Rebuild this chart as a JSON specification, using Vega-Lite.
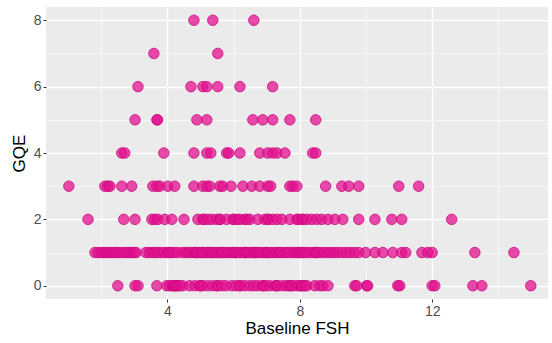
{
  "$schema": "https://vega.github.io/schema/vega-lite/v6.json",
  "width": 502,
  "height": 292,
  "autosize": {"type": "none"},
  "padding": {"left": 46, "top": 7, "right": 4, "bottom": 44},
  "background": "white",
  "config": {
    "view": {"fill": "#EBEBEB", "stroke": null},
    "font": "Liberation Sans"
  },
  "datasets": {
    "pts": [
      {"fsh": 4.80, "gqe": 8}, {"fsh": 5.37, "gqe": 8}, {"fsh": 6.61, "gqe": 8},
      {"fsh": 3.59, "gqe": 7}, {"fsh": 5.52, "gqe": 7},
      {"fsh": 3.11, "gqe": 6}, {"fsh": 4.71, "gqe": 6}, {"fsh": 5.07, "gqe": 6}, {"fsh": 5.19, "gqe": 6}, {"fsh": 5.52, "gqe": 6}, {"fsh": 6.19, "gqe": 6}, {"fsh": 7.18, "gqe": 6},
      {"fsh": 3.02, "gqe": 5}, {"fsh": 3.68, "gqe": 5}, {"fsh": 3.70, "gqe": 5}, {"fsh": 4.89, "gqe": 5}, {"fsh": 5.19, "gqe": 5}, {"fsh": 6.58, "gqe": 5}, {"fsh": 6.88, "gqe": 5}, {"fsh": 7.18, "gqe": 5}, {"fsh": 7.70, "gqe": 5}, {"fsh": 8.48, "gqe": 5},
      {"fsh": 2.62, "gqe": 4}, {"fsh": 2.71, "gqe": 4}, {"fsh": 3.89, "gqe": 4}, {"fsh": 4.80, "gqe": 4}, {"fsh": 5.19, "gqe": 4}, {"fsh": 5.31, "gqe": 4}, {"fsh": 5.79, "gqe": 4}, {"fsh": 5.85, "gqe": 4}, {"fsh": 6.19, "gqe": 4}, {"fsh": 6.79, "gqe": 4}, {"fsh": 7.03, "gqe": 4}, {"fsh": 7.18, "gqe": 4}, {"fsh": 7.31, "gqe": 4}, {"fsh": 7.55, "gqe": 4}, {"fsh": 8.39, "gqe": 4}, {"fsh": 8.48, "gqe": 4},
      {"fsh": 1.02, "gqe": 3}, {"fsh": 2.11, "gqe": 3}, {"fsh": 2.20, "gqe": 3}, {"fsh": 2.26, "gqe": 3}, {"fsh": 2.62, "gqe": 3}, {"fsh": 2.92, "gqe": 3}, {"fsh": 3.56, "gqe": 3}, {"fsh": 3.68, "gqe": 3}, {"fsh": 3.77, "gqe": 3}, {"fsh": 4.01, "gqe": 3}, {"fsh": 4.22, "gqe": 3}, {"fsh": 4.80, "gqe": 3}, {"fsh": 5.07, "gqe": 3}, {"fsh": 5.19, "gqe": 3}, {"fsh": 5.28, "gqe": 3}, {"fsh": 5.58, "gqe": 3}, {"fsh": 5.67, "gqe": 3}, {"fsh": 5.92, "gqe": 3}, {"fsh": 6.28, "gqe": 3}, {"fsh": 6.55, "gqe": 3}, {"fsh": 6.79, "gqe": 3}, {"fsh": 7.03, "gqe": 3}, {"fsh": 7.12, "gqe": 3}, {"fsh": 7.70, "gqe": 3}, {"fsh": 7.79, "gqe": 3}, {"fsh": 7.91, "gqe": 3}, {"fsh": 8.78, "gqe": 3}, {"fsh": 9.27, "gqe": 3}, {"fsh": 9.48, "gqe": 3}, {"fsh": 9.78, "gqe": 3}, {"fsh": 10.99, "gqe": 3}, {"fsh": 11.59, "gqe": 3},
      {"fsh": 1.60, "gqe": 2}, {"fsh": 2.68, "gqe": 2}, {"fsh": 3.02, "gqe": 2}, {"fsh": 3.53, "gqe": 2}, {"fsh": 3.62, "gqe": 2}, {"fsh": 3.71, "gqe": 2}, {"fsh": 3.92, "gqe": 2}, {"fsh": 4.13, "gqe": 2}, {"fsh": 4.50, "gqe": 2}, {"fsh": 4.92, "gqe": 2}, {"fsh": 5.07, "gqe": 2}, {"fsh": 5.10, "gqe": 2}, {"fsh": 5.22, "gqe": 2}, {"fsh": 5.34, "gqe": 2}, {"fsh": 5.49, "gqe": 2}, {"fsh": 5.58, "gqe": 2}, {"fsh": 5.60, "gqe": 2}, {"fsh": 5.79, "gqe": 2}, {"fsh": 5.98, "gqe": 2}, {"fsh": 6.00, "gqe": 2}, {"fsh": 6.10, "gqe": 2}, {"fsh": 6.19, "gqe": 2}, {"fsh": 6.34, "gqe": 2}, {"fsh": 6.40, "gqe": 2}, {"fsh": 6.49, "gqe": 2}, {"fsh": 6.73, "gqe": 2}, {"fsh": 6.94, "gqe": 2}, {"fsh": 7.03, "gqe": 2}, {"fsh": 7.05, "gqe": 2}, {"fsh": 7.18, "gqe": 2}, {"fsh": 7.31, "gqe": 2}, {"fsh": 7.46, "gqe": 2}, {"fsh": 7.70, "gqe": 2}, {"fsh": 7.91, "gqe": 2}, {"fsh": 7.95, "gqe": 2}, {"fsh": 8.06, "gqe": 2}, {"fsh": 8.10, "gqe": 2}, {"fsh": 8.21, "gqe": 2}, {"fsh": 8.36, "gqe": 2}, {"fsh": 8.51, "gqe": 2}, {"fsh": 8.66, "gqe": 2}, {"fsh": 8.85, "gqe": 2}, {"fsh": 9.06, "gqe": 2}, {"fsh": 9.30, "gqe": 2}, {"fsh": 9.78, "gqe": 2}, {"fsh": 10.27, "gqe": 2}, {"fsh": 10.78, "gqe": 2}, {"fsh": 11.08, "gqe": 2}, {"fsh": 12.59, "gqe": 2},
      {"fsh": 1.81, "gqe": 1}, {"fsh": 1.90, "gqe": 1}, {"fsh": 2.00, "gqe": 1}, {"fsh": 2.08, "gqe": 1}, {"fsh": 2.15, "gqe": 1}, {"fsh": 2.22, "gqe": 1}, {"fsh": 2.30, "gqe": 1}, {"fsh": 2.38, "gqe": 1}, {"fsh": 2.45, "gqe": 1}, {"fsh": 2.52, "gqe": 1}, {"fsh": 2.60, "gqe": 1}, {"fsh": 2.70, "gqe": 1}, {"fsh": 2.78, "gqe": 1}, {"fsh": 2.85, "gqe": 1}, {"fsh": 2.92, "gqe": 1}, {"fsh": 3.00, "gqe": 1}, {"fsh": 3.05, "gqe": 1}, {"fsh": 3.35, "gqe": 1}, {"fsh": 3.45, "gqe": 1}, {"fsh": 3.55, "gqe": 1}, {"fsh": 3.62, "gqe": 1}, {"fsh": 3.70, "gqe": 1}, {"fsh": 3.80, "gqe": 1}, {"fsh": 3.90, "gqe": 1}, {"fsh": 4.00, "gqe": 1}, {"fsh": 4.05, "gqe": 1}, {"fsh": 4.10, "gqe": 1}, {"fsh": 4.20, "gqe": 1}, {"fsh": 4.30, "gqe": 1}, {"fsh": 4.45, "gqe": 1}, {"fsh": 4.55, "gqe": 1}, {"fsh": 4.62, "gqe": 1}, {"fsh": 4.70, "gqe": 1}, {"fsh": 4.80, "gqe": 1}, {"fsh": 4.85, "gqe": 1}, {"fsh": 4.88, "gqe": 1}, {"fsh": 4.95, "gqe": 1}, {"fsh": 5.02, "gqe": 1}, {"fsh": 5.05, "gqe": 1}, {"fsh": 5.10, "gqe": 1}, {"fsh": 5.18, "gqe": 1}, {"fsh": 5.25, "gqe": 1}, {"fsh": 5.32, "gqe": 1}, {"fsh": 5.35, "gqe": 1}, {"fsh": 5.40, "gqe": 1}, {"fsh": 5.48, "gqe": 1}, {"fsh": 5.55, "gqe": 1}, {"fsh": 5.62, "gqe": 1}, {"fsh": 5.65, "gqe": 1}, {"fsh": 5.70, "gqe": 1}, {"fsh": 5.78, "gqe": 1}, {"fsh": 5.85, "gqe": 1}, {"fsh": 5.92, "gqe": 1}, {"fsh": 6.00, "gqe": 1}, {"fsh": 6.05, "gqe": 1}, {"fsh": 6.08, "gqe": 1}, {"fsh": 6.15, "gqe": 1}, {"fsh": 6.22, "gqe": 1}, {"fsh": 6.30, "gqe": 1}, {"fsh": 6.35, "gqe": 1}, {"fsh": 6.38, "gqe": 1}, {"fsh": 6.45, "gqe": 1}, {"fsh": 6.52, "gqe": 1}, {"fsh": 6.60, "gqe": 1}, {"fsh": 6.65, "gqe": 1}, {"fsh": 6.68, "gqe": 1}, {"fsh": 6.75, "gqe": 1}, {"fsh": 6.82, "gqe": 1}, {"fsh": 6.90, "gqe": 1}, {"fsh": 6.98, "gqe": 1}, {"fsh": 7.00, "gqe": 1}, {"fsh": 7.05, "gqe": 1}, {"fsh": 7.12, "gqe": 1}, {"fsh": 7.20, "gqe": 1}, {"fsh": 7.28, "gqe": 1}, {"fsh": 7.35, "gqe": 1}, {"fsh": 7.40, "gqe": 1}, {"fsh": 7.45, "gqe": 1}, {"fsh": 7.55, "gqe": 1}, {"fsh": 7.62, "gqe": 1}, {"fsh": 7.70, "gqe": 1}, {"fsh": 7.80, "gqe": 1}, {"fsh": 7.88, "gqe": 1}, {"fsh": 7.95, "gqe": 1}, {"fsh": 8.00, "gqe": 1}, {"fsh": 8.05, "gqe": 1}, {"fsh": 8.12, "gqe": 1}, {"fsh": 8.20, "gqe": 1}, {"fsh": 8.30, "gqe": 1}, {"fsh": 8.40, "gqe": 1}, {"fsh": 8.48, "gqe": 1}, {"fsh": 8.50, "gqe": 1}, {"fsh": 8.55, "gqe": 1}, {"fsh": 8.65, "gqe": 1}, {"fsh": 8.75, "gqe": 1}, {"fsh": 8.85, "gqe": 1}, {"fsh": 8.95, "gqe": 1}, {"fsh": 9.05, "gqe": 1}, {"fsh": 9.15, "gqe": 1}, {"fsh": 9.28, "gqe": 1}, {"fsh": 9.40, "gqe": 1}, {"fsh": 9.52, "gqe": 1}, {"fsh": 9.65, "gqe": 1}, {"fsh": 9.78, "gqe": 1}, {"fsh": 9.99, "gqe": 1}, {"fsh": 10.27, "gqe": 1}, {"fsh": 10.51, "gqe": 1}, {"fsh": 10.81, "gqe": 1}, {"fsh": 11.08, "gqe": 1}, {"fsh": 11.20, "gqe": 1}, {"fsh": 11.69, "gqe": 1}, {"fsh": 11.87, "gqe": 1}, {"fsh": 12.00, "gqe": 1}, {"fsh": 13.29, "gqe": 1}, {"fsh": 14.47, "gqe": 1},
      {"fsh": 2.50, "gqe": 0}, {"fsh": 3.02, "gqe": 0}, {"fsh": 3.11, "gqe": 0}, {"fsh": 3.68, "gqe": 0}, {"fsh": 3.98, "gqe": 0}, {"fsh": 4.07, "gqe": 0}, {"fsh": 4.16, "gqe": 0}, {"fsh": 4.20, "gqe": 0}, {"fsh": 4.22, "gqe": 0}, {"fsh": 4.28, "gqe": 0}, {"fsh": 4.30, "gqe": 0}, {"fsh": 4.37, "gqe": 0}, {"fsh": 4.46, "gqe": 0}, {"fsh": 4.67, "gqe": 0}, {"fsh": 4.83, "gqe": 0}, {"fsh": 4.98, "gqe": 0}, {"fsh": 5.00, "gqe": 0}, {"fsh": 5.07, "gqe": 0}, {"fsh": 5.22, "gqe": 0}, {"fsh": 5.37, "gqe": 0}, {"fsh": 5.50, "gqe": 0}, {"fsh": 5.52, "gqe": 0}, {"fsh": 5.64, "gqe": 0}, {"fsh": 5.76, "gqe": 0}, {"fsh": 5.94, "gqe": 0}, {"fsh": 6.07, "gqe": 0}, {"fsh": 6.19, "gqe": 0}, {"fsh": 6.20, "gqe": 0}, {"fsh": 6.34, "gqe": 0}, {"fsh": 6.49, "gqe": 0}, {"fsh": 6.61, "gqe": 0}, {"fsh": 6.73, "gqe": 0}, {"fsh": 6.88, "gqe": 0}, {"fsh": 6.90, "gqe": 0}, {"fsh": 6.97, "gqe": 0}, {"fsh": 7.09, "gqe": 0}, {"fsh": 7.25, "gqe": 0}, {"fsh": 7.30, "gqe": 0}, {"fsh": 7.34, "gqe": 0}, {"fsh": 7.49, "gqe": 0}, {"fsh": 7.61, "gqe": 0}, {"fsh": 7.70, "gqe": 0}, {"fsh": 7.72, "gqe": 0}, {"fsh": 7.79, "gqe": 0}, {"fsh": 7.91, "gqe": 0}, {"fsh": 8.00, "gqe": 0}, {"fsh": 8.05, "gqe": 0}, {"fsh": 8.06, "gqe": 0}, {"fsh": 8.15, "gqe": 0}, {"fsh": 8.21, "gqe": 0}, {"fsh": 8.45, "gqe": 0}, {"fsh": 8.60, "gqe": 0}, {"fsh": 8.70, "gqe": 0}, {"fsh": 8.85, "gqe": 0}, {"fsh": 9.66, "gqe": 0}, {"fsh": 9.72, "gqe": 0}, {"fsh": 10.02, "gqe": 0}, {"fsh": 10.05, "gqe": 0}, {"fsh": 10.96, "gqe": 0}, {"fsh": 11.02, "gqe": 0}, {"fsh": 12.00, "gqe": 0}, {"fsh": 12.08, "gqe": 0}, {"fsh": 13.23, "gqe": 0}, {"fsh": 13.50, "gqe": 0}, {"fsh": 14.98, "gqe": 0}
    ]
  },
  "data": {"name": "pts"},
  "mark": {
    "type": "point",
    "filled": true,
    "shape": "circle",
    "size": 110,
    "fill": "#E3128F",
    "fillOpacity": 0.75,
    "stroke": "#CC0A80",
    "strokeWidth": 1,
    "strokeOpacity": 0.8
  },
  "encoding": {
    "x": {
      "field": "fsh",
      "type": "quantitative",
      "title": "Baseline FSH",
      "scale": {"domain": [0.33, 15.5], "nice": false, "zero": false},
      "axis": {
        "values": [2, 4, 6, 8, 10, 12, 14],
        "labelExpr": "datum.value % 4 === 0 ? datum.label : ''",
        "domain": false,
        "grid": true,
        "gridColor": "white",
        "gridWidth": {"condition": {"test": "datum.value % 4 === 0", "value": 1.3}, "value": 0.6},
        "tickColor": "#333333",
        "tickSize": 3,
        "tickOpacity": {"condition": {"test": "datum.value % 4 === 0", "value": 1}, "value": 0},
        "labelColor": "#4D4D4D",
        "labelFontSize": 14,
        "labelPadding": 2,
        "titleColor": "black",
        "titleFontSize": 17,
        "titleFontWeight": "normal",
        "titlePadding": 2
      }
    },
    "y": {
      "field": "gqe",
      "type": "quantitative",
      "title": "GQE",
      "scale": {"domain": [-0.4, 8.4], "nice": false, "zero": false},
      "axis": {
        "values": [0, 1, 2, 3, 4, 5, 6, 7, 8],
        "labelExpr": "datum.value % 2 === 0 ? datum.label : ''",
        "domain": false,
        "grid": true,
        "gridColor": "white",
        "gridWidth": {"condition": {"test": "datum.value % 2 === 0", "value": 1.3}, "value": 0.6},
        "tickColor": "#333333",
        "tickSize": 3,
        "tickOpacity": {"condition": {"test": "datum.value % 2 === 0", "value": 1}, "value": 0},
        "labelColor": "#4D4D4D",
        "labelFontSize": 14,
        "labelPadding": 2,
        "titleColor": "black",
        "titleFontSize": 17,
        "titleFontWeight": "normal",
        "titlePadding": 5
      }
    }
  }
}
